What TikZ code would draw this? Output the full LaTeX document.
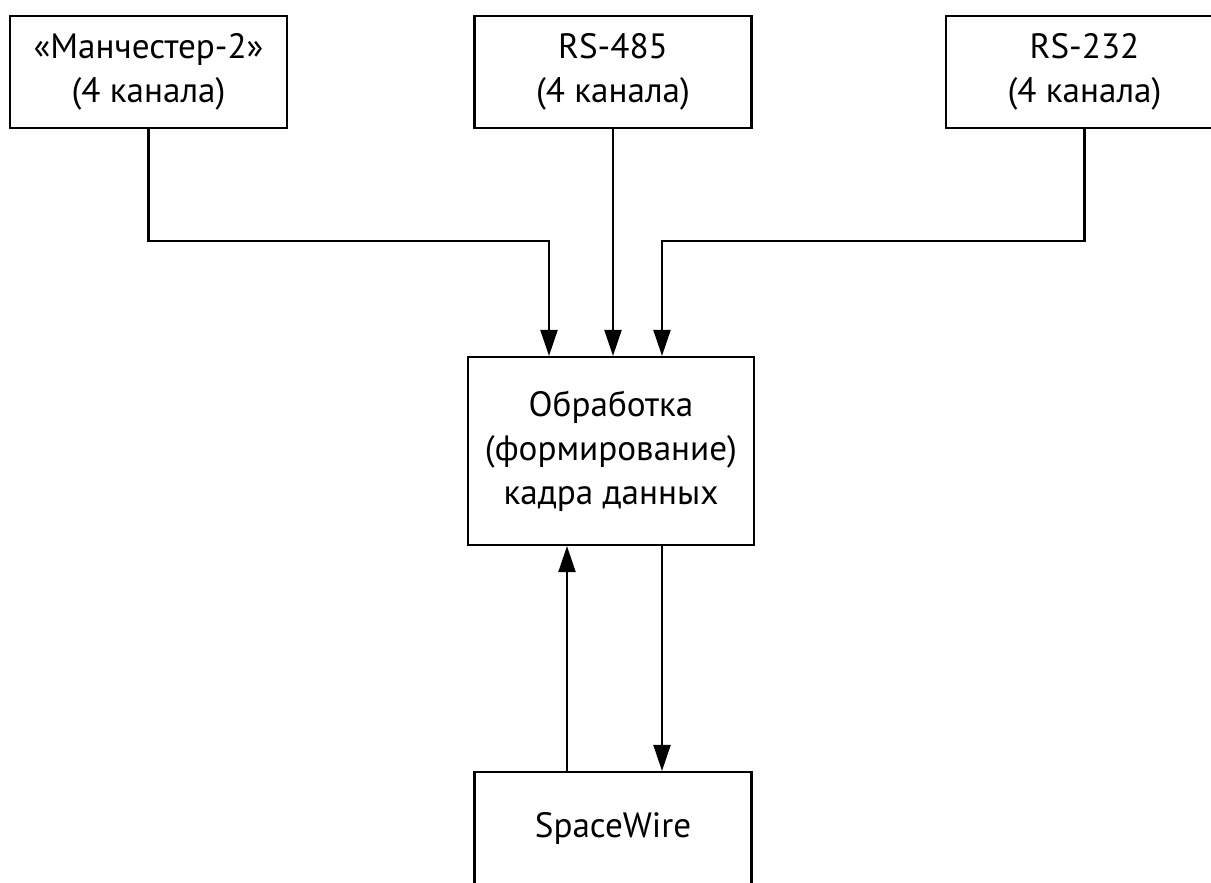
\documentclass[tikz,border=0pt]{standalone}
\usepackage{fontspec}
\setmainfont{PT Sans}
\usetikzlibrary{arrows.meta}

\begin{document}
\begin{tikzpicture}[x=0.1mm, y=-0.1mm,
        blok/.style={draw, line width=0.6pt, align=center, inner sep=0pt,
            minimum width=27.7mm, minimum height=11.2mm, font=\fontsize{10}{12.5}\selectfont},
        strelka/.style={line width=0.6pt, -{Triangle[length=2.6mm, width=1.7mm]}}]
        \useasboundingbox (0,0) rectangle (1211,882);
        \clip (0,0) rectangle (1211,882);
        \node[blok] (man) at (148.5,72) {«Манчестер-2»\\(4 канала)};
        \node[blok] (rs485) at (613,72) {RS-485\\(4 канала)};
        \node[blok] (rs232) at (1084.5,72) {RS-232\\(4 канала)};
        \node[blok, minimum width=28.6mm, minimum height=18.8mm] (proc) at (611,451) {Обработка\\(формирование)\\кадра данных};
        \node[blok] (sw) at (613,828) {SpaceWire};
        \coordinate (j1) at (549,241);
        \coordinate (j3) at (662,241);
        \coordinate (up) at (567,0);
        \draw[strelka] (man.south) |- (j1) -- (j1 |- proc.north);
        \draw[strelka] (rs485.south) -- (rs485.south |- proc.north);
        \draw[strelka] (rs232.south) |- (j3) -- (j3 |- proc.north);
        \draw[strelka] (up |- sw.north) -- (up |- proc.south);
        \draw[strelka] (j3 |- proc.south) -- (j3 |- sw.north);
    \end{tikzpicture}
\end{document}
